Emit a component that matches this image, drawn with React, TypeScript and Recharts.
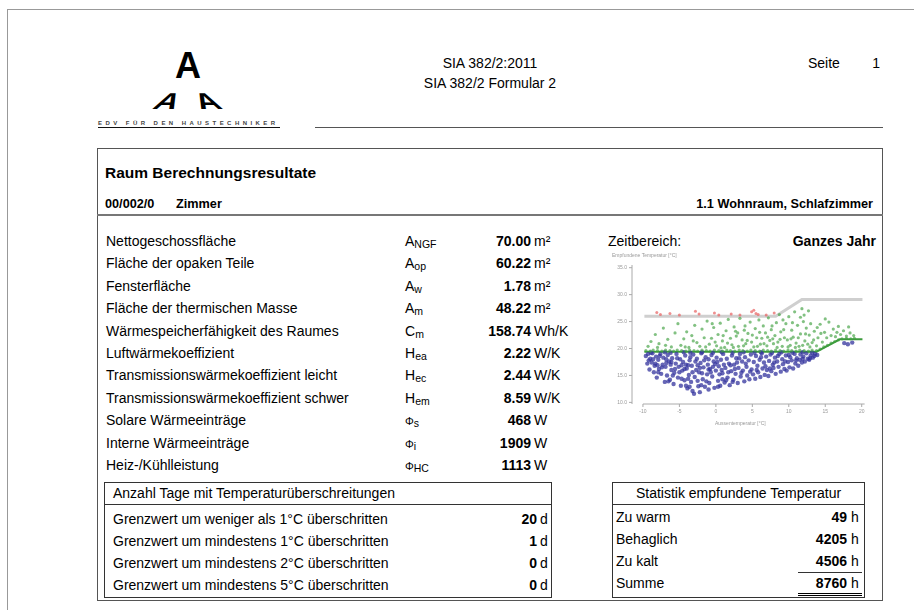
import React from "react"
import { ComposedChart, Scatter, Line, XAxis, YAxis, ReferenceLine } from "recharts"

// ---- data ----
const rowLabels = [
  "Nettogeschossfläche",
  "Fläche der opaken Teile",
  "Fensterfläche",
  "Fläche der thermischen Masse",
  "Wärmespeicherfähigkeit des Raumes",
  "Luftwärmekoeffizient",
  "Transmissionswärmekoeffizient leicht",
  "Transmissionswärmekoeffizient schwer",
  "Solare Wärmeeinträge",
  "Interne Wärmeeinträge",
  "Heiz-/Kühlleistung",
]
const rowSymbols = [
  ["A", "NGF"], ["A", "op"], ["A", "w"], ["A", "m"], ["C", "m"], ["H", "ea"],
  ["H", "ec"], ["H", "em"], ["Φ", "s"], ["Φ", "i"], ["Φ", "HC"],
]
const rowValues = ["70.00", "60.22", "1.78", "48.22", "158.74", "2.22", "2.44", "8.59", "468", "1909", "1113"]
const rowUnits = ["m²", "m²", "m²", "m²", "Wh/K", "W/K", "W/K", "W/K", "W", "W", "W"]

const exceedLabels = [
  "Grenzwert um weniger als 1°C überschritten",
  "Grenzwert um mindestens 1°C überschritten",
  "Grenzwert um mindestens 2°C überschritten",
  "Grenzwert um mindestens 5°C überschritten",
]
const exceedDays = [20, 1, 0, 0]

const statLabels = ["Zu warm", "Behaglich", "Zu kalt", "Summe"]
const statHours = [49, 4205, 4506, 8760]

const xTicks = [-10, -5, 0, 5, 10, 15, 20]
const yTicks = [10, 15, 20, 25, 30, 35]

// comfort limits (outdoor temp, room temp)
const upperLimit = [[-9.8, 26.0], [8.2, 26.0], [11.8, 29.1], [20.1, 29.1]]
const lowerLimit = [[-9.8, 19.4], [13.8, 19.4], [17.0, 21.7], [20.1, 21.7]]

const coldPts = [
  [-9.6, 18.6], [-9.4, 17.2], [-9.3, 19.0], [-9.1, 16.1], [-9.0, 18.1], [-8.8, 17.4], [-8.7, 19.1], [-8.5, 15.6],
  [-8.4, 16.8], [-8.2, 18.5], [-8.1, 14.6], [-7.9, 17.9], [-7.8, 16.2], [-7.6, 19.0], [-7.5, 15.3], [-7.3, 17.0],
  [-7.2, 18.3], [-7.0, 13.8], [-6.9, 16.6], [-6.7, 15.0], [-6.6, 18.8], [-6.4, 17.6], [-6.3, 14.2], [-6.1, 16.0],
  [-6.0, 18.2], [-5.8, 13.4], [-5.7, 15.5], [-5.5, 17.2], [-5.4, 19.0], [-5.2, 14.6], [-5.1, 16.6], [-4.9, 18.0],
  [-4.8, 13.1], [-4.6, 15.9], [-4.5, 17.5], [-4.3, 14.1], [-4.2, 18.7], [-4.0, 16.3], [-3.9, 12.6], [-3.7, 15.1],
  [-3.6, 17.8], [-3.4, 13.8], [-3.3, 16.8], [-3.1, 18.9], [-3.0, 11.6], [-2.9, 14.7], [-2.7, 16.0], [-2.6, 18.1],
  [-2.4, 13.0], [-2.3, 15.6], [-2.1, 17.3], [-2.0, 19.1], [-1.8, 14.3], [-1.7, 16.5], [-1.5, 12.9], [-1.4, 18.4],
  [-1.2, 15.2], [-1.1, 17.0], [-0.9, 13.6], [-0.8, 16.2], [-0.6, 18.8], [-0.5, 14.8], [-0.3, 17.6], [-0.2, 12.7],
  [0.0, 15.9], [0.1, 18.3], [0.3, 14.0], [0.4, 16.7], [0.6, 13.1], [0.7, 17.9], [0.9, 15.4], [1.0, 19.0],
  [1.2, 13.7], [1.3, 16.4], [1.5, 18.1], [1.6, 14.6], [1.8, 17.2], [1.9, 13.2], [2.1, 15.8], [2.2, 18.7],
  [2.4, 14.2], [2.5, 17.0], [2.7, 15.3], [2.8, 18.2], [3.0, 13.6], [3.1, 16.4], [3.3, 19.0], [3.4, 14.8],
  [3.6, 17.6], [3.7, 15.9], [3.9, 13.9], [4.0, 18.4], [4.2, 16.6], [4.3, 15.0], [4.5, 17.8], [4.6, 14.3],
  [4.8, 18.9], [4.9, 16.1], [5.1, 15.2], [5.2, 17.5], [5.4, 14.4], [5.5, 18.6], [5.7, 16.8], [5.8, 15.6],
  [6.0, 17.9], [6.1, 14.7], [6.3, 19.1], [6.4, 16.3], [6.6, 17.4], [6.7, 15.1], [6.9, 18.5], [7.0, 16.0],
  [7.2, 14.9], [7.3, 17.7], [7.5, 18.9], [7.6, 15.8], [7.8, 17.0], [7.9, 16.4], [8.1, 18.3], [8.2, 15.3],
  [8.4, 17.6], [8.6, 16.6], [8.7, 19.0], [8.9, 15.7], [9.1, 18.0], [9.2, 17.1], [9.4, 16.2], [9.6, 18.7],
  [9.7, 15.9], [9.9, 17.5], [10.1, 16.5], [10.2, 18.4], [10.4, 17.8], [10.6, 16.3], [10.8, 19.0], [10.9, 17.2],
  [11.1, 18.2], [11.3, 16.8], [11.5, 17.9], [11.6, 18.9], [11.8, 17.4], [12.0, 18.5], [12.2, 17.6], [12.4, 19.1],
  [12.6, 18.1], [12.8, 17.9], [13.0, 18.7], [13.3, 18.3], [13.6, 19.0], [13.9, 18.8], [17.6, 21.0], [18.1, 20.8],
  [18.7, 21.1],
  [-8.9, 19.2], [-7.0, 19.3], [-6.2, 19.2], [-4.4, 19.3], [-3.5, 19.2], [-1.9, 19.3], [-0.4, 19.2], [0.8, 19.3],
  [2.3, 19.2], [3.8, 19.3], [5.3, 19.2], [6.2, 19.3], [7.7, 19.2], [9.0, 19.3], [10.5, 19.2], [11.9, 19.3],
  [13.2, 19.2],
  [-2.5, 16.9], [-1.9, 15.4], [-1.0, 16.1], [-0.1, 17.1], [0.8, 16.0], [1.7, 15.6], [2.6, 16.2], [-3.8, 16.9],
  [-4.7, 16.9], [-5.6, 16.2], [-6.8, 17.3], [-8.0, 16.9], [-3.2, 12.1], [-2.2, 11.9], [-4.1, 13.1], [-1.0, 12.4],
  [0.3, 12.9], [-6.5, 13.9],
  [-8.6, 18.0], [-8.3, 17.2], [-7.7, 18.6], [-7.4, 16.5], [-6.8, 18.0], [-6.2, 17.0], [-5.9, 15.0], [-5.3, 18.2],
  [-5.0, 15.6], [-4.7, 14.4], [-4.1, 17.0], [-3.8, 14.4], [-3.5, 18.4], [-3.2, 15.6], [-2.8, 17.6], [-2.5, 14.0],
  [-2.2, 16.4], [-1.6, 17.8], [-1.3, 13.9], [-0.7, 15.6], [-0.4, 16.6], [0.2, 17.5], [0.5, 15.2], [1.1, 17.0],
  [1.4, 14.1], [2.0, 16.9], [2.9, 17.4], [3.5, 15.5], [4.1, 17.2], [4.7, 15.7], [5.6, 16.0], [6.2, 18.4],
  [6.8, 16.7], [7.4, 16.3], [8.0, 17.4], [8.5, 18.6], [9.5, 17.6], [10.0, 18.8], [11.0, 17.8], [11.9, 18.1],
  [12.9, 18.2], [13.5, 18.6], [3.2, 18.2], [-1.0, 18.0], [-4.3, 16.2], [-6.1, 17.5], [-7.9, 15.6], [-9.2, 17.8],
  [-2.0, 13.2], [-3.6, 12.9], [0.9, 14.3], [2.3, 13.8],
]

const comfortPts = [
  [-9.6, 19.6], [-9.0, 19.5], [-8.6, 19.7], [-8.0, 19.6], [-7.4, 19.5], [-6.9, 19.7], [-6.3, 19.6], [-5.8, 19.5],
  [-5.3, 19.7], [-4.7, 19.6], [-4.1, 19.5], [-3.6, 19.7], [-3.0, 19.6], [-2.5, 19.5], [-1.9, 19.7], [-1.3, 19.6],
  [-0.8, 19.5], [-0.2, 19.7], [0.4, 19.6], [0.9, 19.5], [1.5, 19.7], [2.0, 19.6], [2.6, 19.5], [3.2, 19.7],
  [3.7, 19.6], [4.3, 19.5], [4.8, 19.7], [5.4, 19.6], [6.0, 19.5], [6.5, 19.7], [7.1, 19.6], [7.6, 19.5],
  [8.2, 19.7], [8.8, 19.6], [9.3, 19.5], [9.9, 19.7], [10.4, 19.6], [11.0, 19.5], [11.5, 19.7], [12.1, 19.6],
  [12.7, 19.5], [13.2, 19.7], [13.8, 19.6], [14.3, 19.9], [14.8, 20.3], [15.3, 20.6], [15.8, 21.0], [16.3, 21.3],
  [16.8, 21.6], [17.3, 21.8], [17.9, 21.9], [18.5, 21.8], [19.0, 21.9],
  [-9.3, 20.4], [-8.9, 21.3], [-8.3, 22.6], [-7.8, 20.9], [-7.2, 23.8], [-6.6, 21.7], [-6.1, 20.3], [-5.6, 22.9],
  [-5.2, 24.6], [-4.8, 20.6], [-4.4, 21.8], [-4.0, 23.1], [-3.7, 20.2], [-3.3, 22.4], [-2.9, 24.3], [-2.6, 21.1],
  [-2.2, 20.4], [-1.9, 23.6], [-1.6, 22.0], [-1.2, 25.1], [-0.9, 20.8], [-0.6, 21.9], [-0.3, 23.9],
  [0.1, 20.5], [0.3, 22.6], [0.6, 24.7], [0.9, 21.4], [1.2, 20.2], [1.4, 23.3], [1.7, 25.4], [2.0, 21.9],
  [2.2, 20.7], [2.5, 24.0], [2.8, 22.3], [3.1, 20.4], [3.3, 25.6], [3.6, 21.6], [3.9, 23.4], [4.1, 20.9],
  [4.4, 22.8], [4.7, 24.9], [4.9, 21.2], [5.2, 20.3], [5.4, 23.7], [5.6, 22.0], [5.9, 25.3], [6.1, 20.8],
  [6.3, 21.9], [6.5, 24.2], [6.8, 22.9], [7.0, 20.5], [7.2, 25.7], [7.4, 21.5], [7.6, 23.5], [7.9, 20.9],
  [8.1, 22.4], [8.3, 24.8], [8.5, 21.2], [8.7, 26.3], [8.9, 23.1], [9.1, 20.4], [9.4, 22.0], [9.6, 24.6],
  [9.8, 21.6], [10.0, 25.9], [10.2, 20.6], [10.4, 23.4], [10.6, 22.1], [10.8, 26.8], [11.0, 21.0], [11.2, 24.3],
  [11.4, 20.4], [11.6, 22.7], [11.8, 27.4], [12.0, 25.0], [12.2, 21.4], [12.4, 23.8], [12.6, 20.8], [12.8, 22.5],
  [13.0, 24.6], [13.2, 21.1], [13.5, 23.2], [13.8, 20.5], [14.0, 22.0], [14.3, 24.5], [14.6, 21.2], [14.9, 23.0],
  [15.2, 22.0], [15.5, 24.9], [15.8, 22.4], [16.1, 23.6], [16.4, 22.2], [16.8, 24.1], [17.1, 22.6], [17.5, 23.3],
  [17.9, 22.3], [18.4, 22.9], [18.9, 22.4],
  [-8.0, 20.2], [-6.9, 20.6], [-4.2, 20.3], [-3.1, 21.4], [-1.4, 20.3], [-0.1, 21.2], [0.7, 20.1], [1.6, 21.0],
  [2.4, 20.2], [3.0, 22.9], [3.8, 20.5], [4.3, 21.5], [5.0, 22.5], [5.7, 20.4], [6.6, 20.9], [7.1, 22.1],
  [7.8, 21.8], [8.4, 20.2], [8.8, 21.7], [9.3, 23.5], [9.9, 20.3], [10.3, 21.8], [10.9, 20.2], [11.3, 22.0],
  [11.9, 20.6], [12.3, 22.7], [12.9, 20.3], [13.4, 21.6], [13.9, 23.9], [6.0, 23.0], [4.0, 24.2], [2.7, 23.2],
  [1.0, 22.4], [-0.5, 24.6], [10.5, 24.8], [12.1, 26.2], [11.6, 25.8], [9.2, 25.3], [7.7, 24.2], [15.0, 25.5],
  [16.6, 23.0], [18.2, 24.0], [14.4, 22.8], [12.7, 27.0],
]

const warmPts = [
  [-8.1, 26.7], [-7.6, 26.3], [-6.3, 26.5], [-5.0, 26.2], [-2.8, 26.9], [-2.3, 26.4], [-0.2, 26.6], [0.4, 26.2],
  [2.1, 26.4], [3.3, 26.2], [4.9, 26.8], [5.2, 27.1], [5.5, 26.5], [5.8, 26.3], [6.9, 26.2], [8.0, 26.6],
]

const FONT = '"Liberation Sans", Arial, sans-serif'
const toPts = (a: number[][]) => a.map(([x, y]) => ({ x, y }))

const dot = (color: string, r: number, op: number) => (p: any) =>
  p.cx == null ? <g /> : <circle cx={p.cx} cy={p.cy} r={r} fill={color} fillOpacity={op} />

const TempChart = () => (
  <div style={{ position: "absolute", left: 590, top: 250, filter: "blur(0.3px)" }}>
    <ComposedChart width={290} height={185} margin={{ top: 15, right: 15, bottom: 11, left: 12 }}>
      <XAxis
        type="number"
        dataKey="x"
        domain={[-11.5, 20.45]}
        ticks={xTicks}
        allowDataOverflow
        axisLine={false}
        tickLine={{ stroke: "#aaa" }}
        tickSize={3}
        height={20}
        tick={{ fontSize: 5, fill: "#999" }}
      />
      <YAxis
        type="number"
        dataKey="y"
        domain={[9.7, 35.5]}
        ticks={yTicks}
        allowDataOverflow
        tickFormatter={(v: number) => v.toFixed(1)}
        axisLine={{ stroke: "#aaa" }}
        tickLine={{ stroke: "#aaa" }}
        tickSize={3}
        width={30}
        tick={{ fontSize: 5, fill: "#999" }}
      />
      <ReferenceLine segment={[{ x: -10, y: 9.7 }, { x: 20.4, y: 9.7 }]} stroke="#aaa" />
      <Line data={toPts(upperLimit)} dataKey="y" type="linear" stroke="#cfcfcf" strokeWidth={3} dot={false} isAnimationActive={false} />
      <Scatter data={toPts(coldPts)} shape={dot("#34349e", 2.2, 0.75)} isAnimationActive={false} />
      <Line data={toPts(lowerLimit)} dataKey="y" type="linear" stroke="#3c9a3c" strokeWidth={2} dot={false} isAnimationActive={false} />
      <Scatter data={toPts(comfortPts)} shape={dot("#3f9f3f", 1.6, 0.65)} isAnimationActive={false} />
      <Scatter data={toPts(warmPts)} shape={dot("#e86060", 1.5, 0.7)} isAnimationActive={false} />
    </ComposedChart>
    <div style={{ position: "absolute", left: 22, top: 2, fontSize: 5, color: "#999", fontFamily: FONT, whiteSpace: "nowrap" }}>
      Empfundene Temperatur [°C]
    </div>
    <div style={{ position: "absolute", left: 125, top: 170, fontSize: 5, color: "#999", fontFamily: FONT, whiteSpace: "nowrap" }}>
      Aussentemperatur [°C]
    </div>
  </div>
)

const abs = (l: number, t: number, extra: any = {}) => ({
  position: "absolute" as const, left: l, top: t, whiteSpace: "nowrap" as const, ...extra,
})

const Sym = ({ main, sub }: { main: string; sub: string }) => (
  <span>
    <span style={{ fontSize: main === "Φ" ? 11 : 14 }}>{main}</span>
    <span style={{ fontSize: 10.5, position: "relative", top: 2 }}>{sub}</span>
  </span>
)

const Logo = () => (
  <>
    <div style={abs(168, 48, { width: 40, textAlign: "center", fontSize: 36, lineHeight: "36px", fontWeight: 700 })}>A</div>
    <div style={abs(148, 83, { width: 40, textAlign: "center", fontSize: 32, lineHeight: "36px", fontWeight: 700, transform: "skewX(-32deg) scaleY(0.72)" })}>A</div>
    <div style={abs(187, 83, { width: 40, textAlign: "center", fontSize: 32, lineHeight: "36px", fontWeight: 700, transform: "skewX(32deg) scaleY(0.72)" })}>A</div>
    <div style={abs(98, 120, { fontSize: 6, lineHeight: "7px", fontWeight: 700, letterSpacing: 3.45, color: "#444" })}>
      EDV FÜR DEN HAUSTECHNIKER
    </div>
    <div style={abs(98, 127, { width: 182, height: 1, background: "#111" })} />
  </>
)

export default function App() {
  return (
    <div style={{ position: "absolute", left: 0, top: 0, width: 914, height: 610, background: "#fff", fontFamily: FONT, color: "#000", overflow: "hidden" }}>
      {/* page frame */}
      <div style={abs(7, 9, { width: 920, height: 620, borderTop: "1px solid #999", borderLeft: "1px solid #999" })} />

      <Logo />
      <div style={abs(390, 55, { width: 200, textAlign: "center", fontSize: 14, lineHeight: "16px" })}>SIA 382/2:2011</div>
      <div style={abs(390, 75, { width: 200, textAlign: "center", fontSize: 14, lineHeight: "16px" })}>SIA 382/2 Formular 2</div>
      <div style={abs(808, 55, { fontSize: 14, lineHeight: "16px" })}>Seite</div>
      <div style={abs(860, 55, { width: 20, textAlign: "right", fontSize: 14, lineHeight: "16px" })}>1</div>
      <div style={abs(315, 127, { width: 568, height: 1, background: "#555" })} />

      {/* main box */}
      <div style={abs(97, 148, { width: 786, height: 453, border: "1px solid #555", boxSizing: "border-box" })} />
      <div style={abs(105, 164, { fontSize: 15.5, lineHeight: "18px", fontWeight: 700 })}>Raum Berechnungsresultate</div>
      <div style={abs(105, 197, { fontSize: 12.7, lineHeight: "15px", fontWeight: 700 })}>00/002/0</div>
      <div style={abs(176, 197, { fontSize: 12.7, lineHeight: "15px", fontWeight: 700 })}>Zimmer</div>
      <div style={abs(573, 197, { width: 300, textAlign: "right", fontSize: 12.7, lineHeight: "15px", fontWeight: 700 })}>
        1.1 Wohnraum, Schlafzimmer
      </div>
      <div style={abs(97, 214, { width: 786, height: 2, background: "#777" })} />

      {rowLabels.map((lab, i) => {
        const t = 241 + i * 22.4 - 8
        return (
          <React.Fragment key={lab}>
            <div style={abs(106, t, { fontSize: 14, lineHeight: "16px" })}>{lab}</div>
            <div style={abs(405, t, { fontSize: 14, lineHeight: "16px" })}>
              <Sym main={rowSymbols[i][0]} sub={rowSymbols[i][1]} />
            </div>
            <div style={abs(431, t, { width: 100, textAlign: "right", fontSize: 14, lineHeight: "16px", fontWeight: 700 })}>{rowValues[i]}</div>
            <div style={abs(534, t, { fontSize: 14, lineHeight: "16px" })}>{rowUnits[i]}</div>
          </React.Fragment>
        )
      })}

      <div style={abs(608, 233, { fontSize: 14, lineHeight: "16px" })}>Zeitbereich:</div>
      <div style={abs(716, 233, { width: 160, textAlign: "right", fontSize: 14, lineHeight: "16px", fontWeight: 700 })}>Ganzes Jahr</div>

      <TempChart />

      {/* exceedance box */}
      <div style={abs(104, 482, { width: 448, height: 116, border: "1px solid #333", boxSizing: "border-box" })} />
      <div style={abs(104, 504, { width: 448, height: 1, background: "#333" })} />
      <div style={abs(113, 485, { fontSize: 14, lineHeight: "16px" })}>Anzahl Tage mit Temperaturüberschreitungen</div>
      {exceedLabels.map((lab, i) => {
        const t = 519 + i * 22 - 8
        return (
          <React.Fragment key={lab}>
            <div style={abs(113, t, { fontSize: 14, lineHeight: "16px" })}>{lab}</div>
            <div style={abs(477, t, { width: 60, textAlign: "right", fontSize: 14, lineHeight: "16px", fontWeight: 700 })}>{exceedDays[i]}</div>
            <div style={abs(540, t, { fontSize: 14, lineHeight: "16px" })}>d</div>
          </React.Fragment>
        )
      })}

      {/* statistics box */}
      <div style={abs(612, 482, { width: 253, height: 116, border: "1px solid #333", boxSizing: "border-box" })} />
      <div style={abs(612, 504, { width: 253, height: 1, background: "#333" })} />
      <div style={abs(612, 485, { width: 253, textAlign: "center", fontSize: 14, lineHeight: "16px" })}>Statistik empfundene Temperatur</div>
      {statLabels.map((lab, i) => {
        const t = 517 + i * 22 - 8
        return (
          <React.Fragment key={lab}>
            <div style={abs(616, t, { fontSize: 14, lineHeight: "16px" })}>{lab}</div>
            <div style={abs(767, t, { width: 80, textAlign: "right", fontSize: 14, lineHeight: "16px", fontWeight: 700 })}>{statHours[i]}</div>
            <div style={abs(851, t, { fontSize: 14, lineHeight: "16px" })}>h</div>
          </React.Fragment>
        )
      })}
      <div style={abs(798, 572, { width: 64, height: 1, background: "#333" })} />
      <div style={abs(798, 593, { width: 64, height: 0, borderTop: "3px double #000" })} />
    </div>
  )
}
